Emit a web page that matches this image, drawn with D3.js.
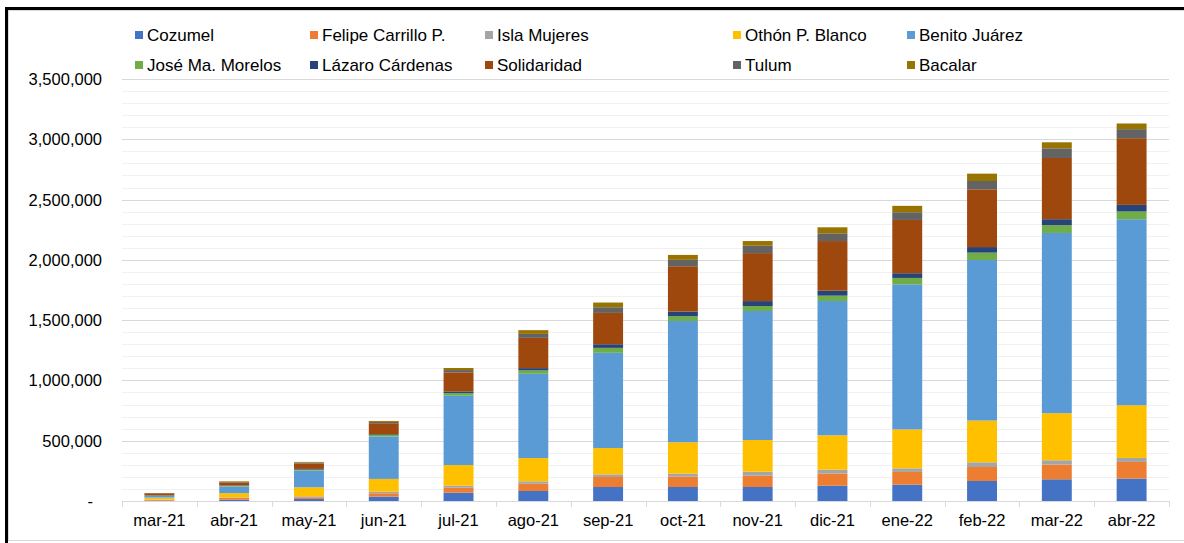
<!DOCTYPE html>
<head>
<meta charset="utf-8">
<title>Quintana Roo por municipio</title>
<style>
body {
  margin: 0;
  padding: 0;
  background: #fff;
  font-family: "Liberation Sans", Arial, sans-serif;
}
.grid line {
  shape-rendering: crispEdges;
}
.legend text, .axis text {
  fill: #000;
  font-size: 16.5px;
}
</style>
</head>
<body>
<svg id="viz" width="1184" height="543"></svg>
<script src="https://d3js.org/d3.v7.min.js"></script>
<script>

var months = ['mar-21', 'abr-21', 'may-21', 'jun-21', 'jul-21', 'ago-21', 'sep-21',
  'oct-21', 'nov-21', 'dic-21', 'ene-22', 'feb-22', 'mar-22', 'abr-22']

var cozumel     = [4000, 11000, 17000, 36000, 69000, 83000, 116000, 116000, 116000, 127000, 136000, 166000, 180000, 186000]
var felipe      = [6000, 14000, 14000, 28000, 41000, 60000, 83000, 86000, 94000, 100000, 105000, 116000, 122000, 138000]
var isla        = [2000, 4000, 8000, 14000, 17000, 20000, 22000, 25000, 33000, 33000, 30000, 39000, 36000, 33000]
var othon       = [16000, 36000, 75000, 105000, 171000, 193000, 218000, 260000, 263000, 285000, 323000, 346000, 390000, 437000]
var benito      = [14000, 55000, 138000, 351000, 575000, 699000, 790000, 1006000, 1070000, 1114000, 1203000, 1332000, 1495000, 1543000]
var jose        = [2000, 5000, 8000, 14000, 22000, 28000, 41000, 39000, 41000, 44000, 53000, 61000, 64000, 64000]
var lazaro      = [3000, 3000, 6000, 6000, 14000, 19000, 30000, 39000, 41000, 41000, 39000, 46000, 50000, 55000]
var solidaridad = [17000, 25000, 44000, 91000, 158000, 251000, 260000, 376000, 398000, 412000, 442000, 479000, 508000, 553000]
var tulum       = [1000, 5000, 8000, 11000, 19000, 33000, 47000, 53000, 61000, 64000, 64000, 69000, 80000, 75000]
var bacalar     = [1000, 5000, 6000, 8000, 17000, 31000, 39000, 41000, 39000, 50000, 53000, 61000, 50000, 47000]

var seriesNames = ['Cozumel', 'Felipe Carrillo P.', 'Isla Mujeres', 'Othón P. Blanco', 'Benito Juárez',
  'José Ma. Morelos', 'Lázaro Cárdenas', 'Solidaridad', 'Tulum', 'Bacalar']
var seriesValues = [cozumel, felipe, isla, othon, benito, jose, lazaro, solidaridad, tulum, bacalar]
var colors = ['#4472c4', '#ed7d31', '#a5a5a5', '#ffc000', '#5b9bd5',
  '#70ad47', '#264478', '#9e480e', '#636363', '#997300']

var yTicks = [0, 500000, 1000000, 1500000, 2000000, 2500000, 3000000, 3500000]

// rows for d3.stack
var rows = months.map(function(m, i) {
  var r = { month: m }
  seriesNames.forEach(function(s, j) { r[s] = seriesValues[j][i] })
  return r
})

var svg = d3.select('#viz')

// frame
svg.append('rect')
  .attr('x', 8.5).attr('y', 10.5)
  .attr('width', 1190).attr('height', 530)
  .attr('fill', 'none').attr('stroke', '#d9d9d9')
svg.append('path')
  .attr('d', 'M6.5,543V8.5H1184')
  .attr('fill', 'none').attr('stroke', '#000').attr('stroke-width', 3)

var plotLeft = 122, plotRight = 1169, plotTop = 79, plotBottom = 501

var x = d3.scaleBand()
  .domain(months)
  .range([plotLeft, plotRight])
  .paddingInner(0.6)
  .paddingOuter(0.3)

var y = d3.scaleLinear()
  .domain([0, 3500000])
  .range([plotBottom, plotTop])

// grid: minor every 100k, major every 500k
var grid = svg.append('g').attr('class', 'grid')
grid.selectAll('line.minor')
  .data(d3.range(100000, 3500001, 100000).filter(function(v) { return v % 500000 !== 0 }))
  .enter().append('line')
    .attr('class', 'minor')
    .attr('x1', plotLeft).attr('x2', plotRight)
    .attr('y1', function(d) { return Math.round(y(d)) + 0.5 })
    .attr('y2', function(d) { return Math.round(y(d)) + 0.5 })
    .attr('stroke', '#f0f0f0')
grid.selectAll('line.major')
  .data(yTicks.slice(1))
  .enter().append('line')
    .attr('class', 'major')
    .attr('x1', plotLeft).attr('x2', plotRight)
    .attr('y1', function(d) { return Math.round(y(d)) + 0.5 })
    .attr('y2', function(d) { return Math.round(y(d)) + 0.5 })
    .attr('stroke', '#d9d9d9')

// bars
var stack = d3.stack().keys(seriesNames)
var layers = stack(rows)

svg.append('g')
  .selectAll('g')
  .data(layers)
  .enter().append('g')
    .attr('fill', function(d, i) { return colors[i] })
  .selectAll('rect')
  .data(function(d) { return d })
  .enter().append('rect')
    .attr('x', function(d) { return x(d.data.month) })
    .attr('width', x.bandwidth())
    .attr('y', function(d) { return y(d[1]) })
    .attr('height', function(d) { return y(d[0]) - y(d[1]) })

// x axis
var step = x.step()
var xAxis = svg.append('g').attr('class', 'axis')
xAxis.append('line')
  .attr('x1', plotLeft).attr('x2', plotRight)
  .attr('y1', plotBottom + 0.5).attr('y2', plotBottom + 0.5)
  .attr('stroke', '#d9d9d9')
xAxis.selectAll('line.tick')
  .data(d3.range(months.length + 1))
  .enter().append('line')
    .attr('class', 'tick')
    .attr('x1', function(i) { return Math.round(plotLeft + i * step) + 0.5 })
    .attr('x2', function(i) { return Math.round(plotLeft + i * step) + 0.5 })
    .attr('y1', plotBottom).attr('y2', plotBottom + 6)
    .attr('stroke', '#d9d9d9')
xAxis.selectAll('text')
  .data(months)
  .enter().append('text')
    .attr('x', function(d) { return x(d) + x.bandwidth() / 2 })
    .attr('y', 526)
    .attr('text-anchor', 'middle')
    .text(function(d) { return d })

// y axis labels
var fmt = d3.format(',')
svg.append('g').attr('class', 'axis')
  .selectAll('text')
  .data(yTicks)
  .enter().append('text')
    .attr('x', function(d) { return d === 0 ? 93 : 102 })
    .attr('y', function(d) { return y(d) + 6 })
    .attr('text-anchor', 'end')
    .text(function(d) { return d === 0 ? '-' : fmt(d) })

// legend
var legendX = [135, 310, 485, 733, 907]
var legend = svg.append('g').attr('class', 'legend')
var item = legend.selectAll('g')
  .data(seriesNames)
  .enter().append('g')
    .attr('transform', function(d, i) {
      return 'translate(' + legendX[i % 5] + ',' + (i < 5 ? 35 : 65) + ')'
    })
item.append('rect')
  .attr('x', 0).attr('y', -4)
  .attr('width', 8).attr('height', 8)
  .attr('fill', function(d, i) { return colors[i] })
item.append('text')
  .attr('x', 12).attr('y', 6)
  .style('font-size', '17px')
  .text(function(d) { return d })

</script>
</body>
</html>
